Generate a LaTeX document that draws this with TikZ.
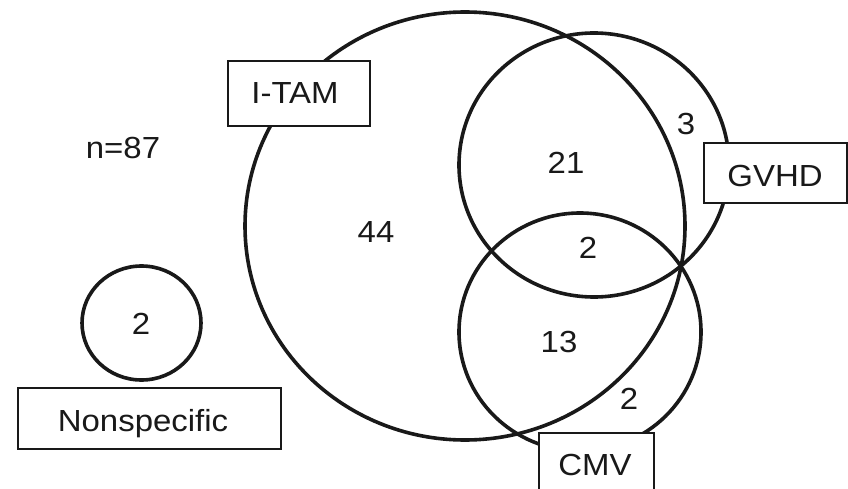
\documentclass[tikz,border=0pt]{standalone}
\usepackage{fontspec}
\setmainfont[FakeStretch=1.08]{Liberation Sans}
\usetikzlibrary{shapes.geometric}
\definecolor{ink}{RGB}{25,25,25}
\tikzset{
  venn/.style={ellipse, draw=ink, line width=3.6pt, inner sep=0pt},
  labelbox/.style={rectangle, draw=ink, line width=2.2pt, fill=white, inner sep=0pt},
  lbl/.style={anchor=base, inner sep=0pt, text=ink, font=\fontsize{30.5}{36}\selectfont},
}
\begin{document}
\begin{tikzpicture}[x=1pt,y=-1pt]
\useasboundingbox (0,0) rectangle (848,489);
\clip (0,0) rectangle (848,489);
% circles
\node[venn, minimum width=440pt, minimum height=428pt] (itam) at (465,226) {};
\node[venn, minimum width=270pt, minimum height=264pt] (gvhd) at (594,165) {};
\node[venn, minimum width=242pt, minimum height=238pt] (cmv) at (580,332) {};
\node[venn, minimum width=119pt, minimum height=114pt] (nons) at (141.5,323) {};
% boxes
\node[labelbox, line width=2.6pt, minimum width=142pt, minimum height=65pt] (itambox) at (299,93.5) {};
\node[labelbox, minimum width=143pt, minimum height=60pt] (gvhdbox) at (775.5,173) {};
\node[labelbox, minimum width=263pt, minimum height=61pt] (nonsbox) at (149.5,418.5) {};
\node[labelbox, minimum width=115pt, minimum height=60pt] (cmvbox) at (596.5,463) {};
% box texts
\node[lbl] (titam) at (295,104) {I-TAM};
\node[lbl] (tgvhd) at (775,186) {GVHD};
\node[lbl] (tnons) at (143,431) {Nonspecific};
\node[lbl] (tcmv) at (595,475) {CMV};
% numbers
\node[lbl] (tn) at (123,159) {n=87};
\node[lbl] (n44) at (376,242) {44};
\node[lbl] (n21) at (566,174) {21};
\node[lbl] (n3) at (686,135) {3};
\node[lbl] (n2a) at (588,258) {2};
\node[lbl] (n13) at (559,352) {13};
\node[lbl] (n2b) at (629,409) {2};
\node[lbl] (n2c) at (141,334) {2};
\end{tikzpicture}
\end{document}
